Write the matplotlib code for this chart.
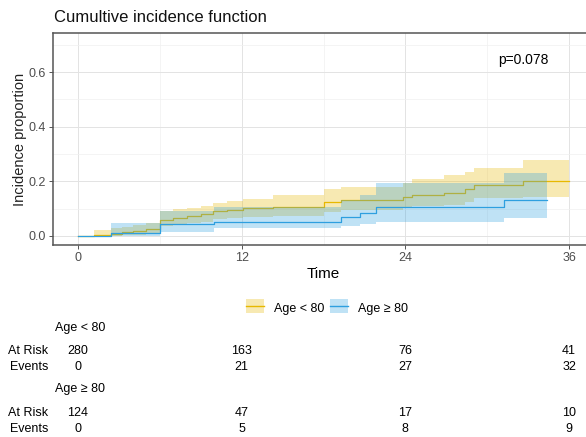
import matplotlib
matplotlib.use("Agg")
import matplotlib.pyplot as plt
from matplotlib.patches import Rectangle
from matplotlib.lines import Line2D
import matplotlib.transforms as mtrans

plt.rcParams['font.family'] = ['Liberation Sans', 'DejaVu Sans']

# ---- data ----
group_names = ["Age < 80", "Age \u2265 80"]
colors = ["#E7B800", "#2E9FDF"]

t_young = [0, 1.2, 2.4, 3.2, 4.0, 5.0, 6.0, 7.0, 8.0, 9.0, 9.9, 10.9, 12.1, 14.3, 18.0, 19.3, 23.8, 24.5, 26.8, 28.4, 29.0, 32.6, 36.0]
est_young = [0, .003, .008, .014, .019, .024, .060, .066, .072, .079, .091, .095, .101, .107, .123, .133, .144, .150, .158, .171, .187, .202, .202]
up_young = [0, .022, .028, .034, .040, .046, .090, .097, .103, .110, .122, .127, .134, .150, .172, .180, .193, .208, .223, .236, .248, .278, .278]
lo_young = [0, 0, 0, .002, .005, .008, .036, .040, .046, .052, .062, .066, .070, .074, .088, .095, .103, .108, .115, .125, .138, .143, .143]

t_old = [0, 2.4, 6.0, 10.0, 19.3, 20.7, 21.85, 31.2, 34.4]
est_old = [0, .010, .043, .052, .070, .085, .105, .131, .131]
up_old = [0, .048, .092, .107, .130, .150, .193, .232, .232]
lo_old = [0, 0, .015, .028, .035, .045, .052, .065, .065]

risk_times = [0, 12, 24, 36]
at_risk_young = [280, 163, 76, 41]
events_young = [0, 21, 27, 32]
at_risk_old = [124, 47, 17, 10]
events_old = [0, 5, 8, 9]

p_text = "p=0.078"


class BandLineHandler:
    def __init__(self, color):
        self.color = color

    def legend_artist(self, legend, orig_handle, fontsize, handlebox):
        x0, y0 = handlebox.xdescent, handlebox.ydescent
        w, h = handlebox.width, handlebox.height
        rect = Rectangle((x0, y0 - 0.15 * h), w, 1.3 * h, facecolor=self.color, alpha=0.3,
                         edgecolor='none', transform=handlebox.get_transform())
        line = Line2D([x0, x0 + w], [y0 + h / 2, y0 + h / 2], color=self.color, lw=1.0,
                      transform=handlebox.get_transform())
        handlebox.add_artist(rect)
        handlebox.add_artist(line)
        return rect


# ---- figure ----
W, H = 586, 437
fig = plt.figure(figsize=(W / 100, H / 100), dpi=100)
ax_l, ax_r, ax_t, ax_b = 53, 594, 33, 245
ax = fig.add_axes([ax_l / W, 1 - ax_b / H, (ax_r - ax_l) / W, (ax_b - ax_t) / H])

series = [(t_young, est_young, up_young, lo_young), (t_old, est_old, up_old, lo_old)]
z = 2
for (t, e, u, l), c in zip(series, colors):
    ax.fill_between(t, l, u, step='post', color=c, alpha=0.3, lw=0, zorder=z)
    ax.step(t, e, where='post', color=c, lw=0.9, zorder=z + 1)
    z += 2

ax.set_xlim(-1.833, 37.83)
ax.set_ylim(-0.033, 0.743)
ax.set_xticks([0, 12, 24, 36])
ax.set_xticks([6, 18, 30], minor=True)
ax.set_yticks([0.0, 0.2, 0.4, 0.6])
ax.set_yticks([0.1, 0.3, 0.5, 0.7], minor=True)
ax.set_yticklabels(["0.0", "0.2", "0.4", "0.6"])
ax.grid(which='major', color='#E3E3E3', lw=0.7, zorder=0)
ax.grid(which='minor', color='#F0F0F0', lw=0.5, zorder=0)
ax.set_axisbelow(True)
ax.tick_params(which='major', direction='out', length=3, width=0.7, color='#555555',
               labelcolor='#4D4D4D', labelsize=9, pad=2)
ax.tick_params(which='minor', length=0)
for s in ax.spines.values():
    s.set_color('#555555')
    s.set_linewidth(1.1)

ax.set_xlabel("Time", fontsize=11, labelpad=2)
ax.set_ylabel("Incidence proportion", fontsize=10.5, labelpad=1, color='#222222')
ax.text(30.8, 0.644, p_text, fontsize=10, ha='left', va='center')
fig.text(54 / W, 1 - 18 / H, "Cumultive incidence function", fontsize=12, ha='left', va='center',
         color='#111111')

# legend
proxies = [Rectangle((0, 0), 1, 1) for _ in colors]
fig.legend(proxies, group_names,
           handler_map={proxies[0]: BandLineHandler(colors[0]), proxies[1]: BandLineHandler(colors[1])},
           loc='center', bbox_to_anchor=(327 / W, 1 - 309 / H), ncol=2, frameon=False,
           fontsize=9, handlelength=1.4, handleheight=0.9, handletextpad=0.8, columnspacing=0.5)

# risk table
tr = mtrans.blended_transform_factory(ax.transData, fig.transFigure)
fs = 9


def ypix(p):
    return 1 - p / H


rows = [
    (328, None, group_names[0], None),
    (350.5, "At Risk", None, at_risk_young),
    (367, "Events", None, events_young),
    (389, None, group_names[1], None),
    (413.5, "At Risk", None, at_risk_old),
    (429.5, "Events", None, events_old),
]
for yp, lab, head, vals in rows:
    if head is not None:
        fig.text(55 / W, ypix(yp), head, fontsize=fs, ha='left', va='center')
    else:
        fig.text(48 / W, ypix(yp), lab, fontsize=fs, ha='right', va='center')
        for tt, v in zip(risk_times, vals):
            fig.text(tt, ypix(yp), str(v), fontsize=fs, ha='center', va='center', transform=tr)

fig.savefig("out.png", dpi=100)
